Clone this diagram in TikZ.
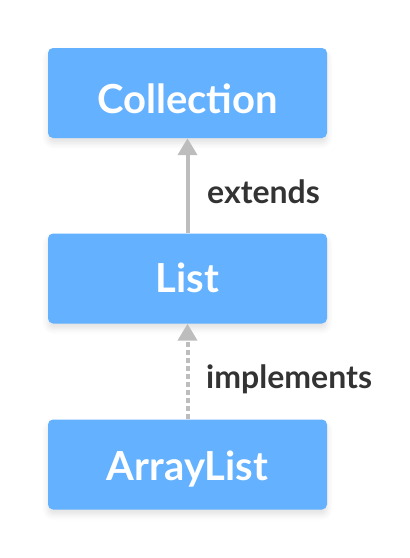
\documentclass[tikz,border=0pt]{standalone}
\usepackage{fontspec}
\setmainfont{Lato}
\usetikzlibrary{arrows.meta}
\usetikzlibrary{positioning}
\usetikzlibrary{shadows.blur}
\definecolor{boxblue}{HTML}{63B1FF}
\definecolor{linegray}{HTML}{BDBDBD}
\definecolor{textdark}{HTML}{333333}
\begin{document}
\begin{tikzpicture}[
  x = 1pt, y = -1pt,
  > = {Triangle[width=19pt,length=17pt]},
  kind/.style = {fill=boxblue,rounded corners=5pt,minimum width=279pt,minimum height=90pt,
    inner sep=0pt,text=white,font=\fontsize{40}{44}\selectfont\bfseries,
    text height=28.7pt,text depth=0pt,
    blur shadow={shadow xshift=0pt,shadow yshift=-5pt,shadow blur radius=6pt,shadow opacity=12,shadow blur steps=6}},
  relation/.style = {text=textdark,font=\fontsize{32}{36}\selectfont\bfseries,anchor=base west,inner sep=0pt},
  link/.style = {draw=linegray,line width=4pt,->}
  ]
  \useasboundingbox (0,0) rectangle (410,558);
  \node[kind,text height=40.7pt] (@collection) at (187.5,93) {Collection};
  \node[kind] (@list) at (187.5,278.5) {List};
  \node[kind,text height=31.7pt] (@arraylist) at (187.5,464.5) {ArrayList};

  \draw[link] (@list.north) to (@collection.south);
  \draw[link,dash pattern=on 5pt off 3pt] (@arraylist.north) to (@list.south);
  \node[relation] (@extends) at (207,203) {extends};
  \node[relation] (@implements) at (206,388) {implements};
\end{tikzpicture}
\end{document}
